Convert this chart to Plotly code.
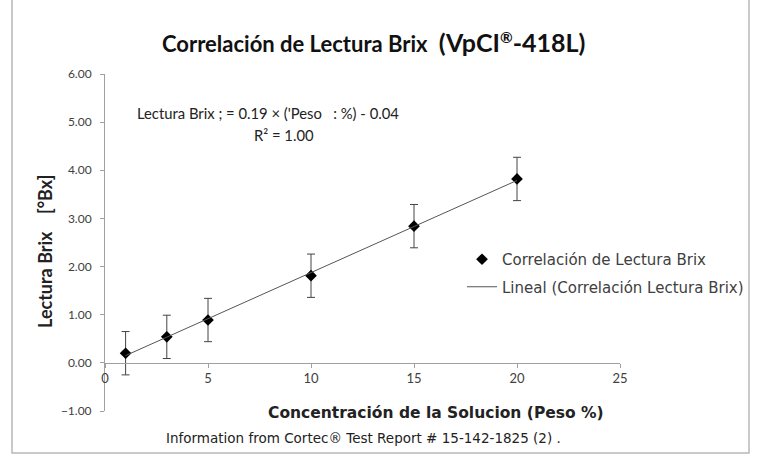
import numpy as np
import plotly.graph_objects as go

# Data
conc = [1, 3, 5, 10, 15, 20]
brix = [0.20, 0.54, 0.89, 1.81, 2.84, 3.82]
err = [0.45, 0.45, 0.45, 0.45, 0.45, 0.45]
x_ticks = [0, 5, 10, 15, 20, 25]
y_ticks = [-1, 0, 1, 2, 3, 4, 5, 6]

slope, intercept = np.polyfit(conc, brix, 1)
fit_x = [min(conc), max(conc)]
fit_y = [slope * v + intercept for v in fit_x]

W, H = 758, 456
L, R, T, B = 105, 138, 74, 45
PW, PH = W - L - R, H - T - B


def px(x):
    return (x - L) / PW


def py(y):
    return (H - B - y) / PH


TXT = "#404040"

fig = go.Figure()
fig.add_trace(go.Scatter(
    x=conc, y=brix, mode="markers",
    name="Correlación de Lectura Brix",
    marker=dict(symbol="diamond", size=9, color="black"),
    error_y=dict(type="data", array=err, visible=True, color="#444444",
                 thickness=1, width=4),
    legendgroup="a",
))
fig.add_trace(go.Scatter(
    x=fit_x, y=fit_y, mode="lines",
    name="Lineal (Correlación Lectura Brix)",
    line=dict(color="#555555", width=1),
    legendgroup="b",
))

fig.update_layout(
    width=W, height=H,
    margin=dict(l=L, r=R, t=T, b=B, autoexpand=False),
    paper_bgcolor="white", plot_bgcolor="white",
    font=dict(family="Lato", color=TXT, size=12),
    showlegend=True,
    legend=dict(xref="container", yref="container",
                x=462 / W, y=1 - 243 / H, xanchor="left", yanchor="top",
                font=dict(family="DejaVu Sans", size=15, color=TXT),
                bgcolor="rgba(0,0,0,0)", traceorder="grouped",
                tracegroupgap=5),
    xaxis=dict(range=[0, 25], tickvals=x_ticks, showgrid=False, zeroline=False,
               showline=True, linecolor="#a0a0a0", linewidth=1,
               ticks="outside", ticklen=4, tickcolor="#a0a0a0",
               anchor="free", position=1 / 7,
               tickfont=dict(family="Lato", size=13, color=TXT)),
    yaxis=dict(range=[-1, 6], tickvals=y_ticks, tickformat=".2f",
               showgrid=False, zeroline=False,
               showline=True, linecolor="#a0a0a0", linewidth=1,
               ticks="outside", ticklen=4, tickcolor="#a0a0a0",
               ticklabelstandoff=6,
               tickfont=dict(family="Lato", size=12, color=TXT)),
    shapes=[dict(type="rect", xref="paper", yref="paper",
                 x0=px(12), x1=px(749), y0=py(453), y1=py(-3),
                 line=dict(color="#b8b8b8", width=1.5))],
)

ann = [
    dict(x=px(373), y=py(42),
         text="<b>Correlación de Lectura Brix</b>  <b><span style='font-size:25px'>(VpCI</span><sup>®</sup><span style='font-size:25px'>-418L)</span></b>",
         font=dict(family="Lato", size=22, color="#111111")),
    dict(x=px(268), y=py(113),
         text="Lectura Brix ; = 0.19 × ('Peso   : %) - 0.04",
         font=dict(family="Lato", size=14.8, color="#222222")),
    dict(x=px(284), y=py(135), text="R² = 1.00",
         font=dict(family="Lato", size=14.8, color="#222222")),
    dict(x=px(45), y=py(252), text="<b>Lectura Brix    [°Bx]</b>", textangle=-90,
         font=dict(family="Lato", size=18, color="#222222")),
    dict(x=px(436), y=py(413), text="<b>Concentración de la Solucion (Peso %)</b>",
         font=dict(family="DejaVu Sans", size=15.5, color="#222222")),
    dict(x=px(363), y=py(438),
         text="Information from Cortec® Test Report # 15-142-1825 (2) .",
         font=dict(family="DejaVu Sans", size=13.5, color="#222222")),
]
for a in ann:
    a.update(xref="paper", yref="paper", showarrow=False,
             xanchor="center", yanchor="middle")
    fig.add_annotation(**a)

fig.write_html("out.html", config={"displayModeBar": False},
               post_script="document.body.style.margin='0';")
